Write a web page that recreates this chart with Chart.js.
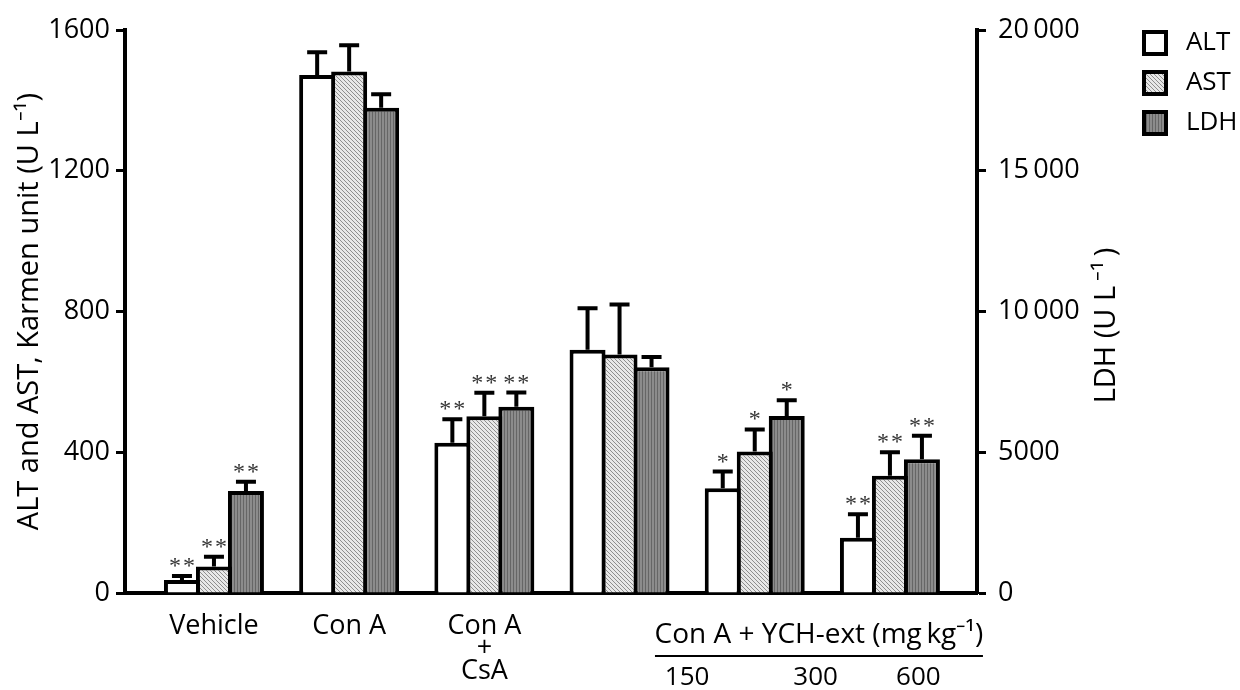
<!DOCTYPE html>
<html>
<head>
<meta charset="utf-8">
<script src="https://cdn.jsdelivr.net/npm/chart.js@4.4.1/dist/chart.umd.min.js"></script>
<style>
html,body{margin:0;padding:0;background:#fff;}
#wrap{width:1240px;height:690px;position:relative;}
</style>
</head>
<body>
<div id="wrap"><canvas id="c" width="1240" height="690"></canvas></div>
<script>
// ---------- data ----------
const groups = ['Vehicle', 'Con A', 'Con A + CsA', 'Con A + YCH-ext 150', 'Con A + YCH-ext 300', 'Con A + YCH-ext 600'];
const groupTickLabels = ['Vehicle', 'Con A', ['Con A', '+', 'CsA']];
const bracketLabel = 'Con A + YCH-ext (mg\u2009kg\u207B\u00B9)';
const doseLabels = ['150', '300', '600'];
const seriesNames = ['ALT', 'AST', 'LDH'];
const altValues = [37, 1472, 427, 691, 298, 157];
const altErrors = [11, 65, 67, 118, 47, 67];
const astValues = [75, 1482, 502, 678, 402, 333];
const astErrors = [28, 75, 67, 142, 63, 67];
const ldhValues = [3625, 17240, 6620, 8020, 6290, 4750];
const ldhErrors = [330, 480, 500, 360, 560, 840];
const altSig = ['**', '', '**', '', '*', '**'];
const astSig = ['**', '', '**', '', '*', '**'];
const ldhSig = ['**', '', '**', '', '*', '**'];
const leftTicks = [0, 400, 800, 1200, 1600];
const rightTicks = [0, 5000, 10000, 15000, 20000];
const leftTitle = 'ALT and AST, Karmen unit (U L\u207B\u00B9)';
const rightTitle = 'LDH (U L\u2009\u207B\u00B9\u2009)';

// ---------- layout / style constants ----------
const FONT = 'Open Sans';
const X_MIN = -0.658, X_MAX = 5.644;
const bracketPos = { textX: 4.475, lineFrom: 3.262, lineTo: 5.688, doseX: [3.50, 4.45, 5.21] };

function makePattern(w, h, draw) {
  const c = document.createElement('canvas');
  c.width = w; c.height = h;
  const g = c.getContext('2d');
  draw(g, w, h);
  return g.createPattern(c, 'repeat');
}
const astPattern = makePattern(4, 4, (g, w, h) => {
  g.fillStyle = '#e8e8e8'; g.fillRect(0, 0, w, h);
  g.fillStyle = '#8e8e8e';
  for (let i = 0; i < 4; i++) g.fillRect(i, i, 1, 1);
});
const ldhPattern = makePattern(3, 3, (g, w, h) => {
  g.fillStyle = '#8c8c8c'; g.fillRect(0, 0, w, h);
  g.fillStyle = '#666666'; g.fillRect(0, 0, 1, h);
});

const toPts = arr => arr.map((v, i) => ({ x: i, y: v }));
const barCommon = { borderColor: '#000', borderWidth: 4, borderSkipped: 'bottom', categoryPercentage: 0.71, barPercentage: 1.125 };

const errorBarPlugin = {
  id: 'errorBars',
  afterDatasetsDraw(chart) {
    const ctx = chart.ctx;
    chart.data.datasets.forEach((ds, di) => {
      const meta = chart.getDatasetMeta(di);
      const ys = chart.scales[meta.yAxisID];
      meta.data.forEach((el, i) => {
        const v = ds.data[i].y, e = ds.errors[i];
        const yTop = ys.getPixelForValue(v + e);
        const yBar = ys.getPixelForValue(v);
        ctx.save();
        ctx.strokeStyle = '#000';
        ctx.lineWidth = 4;
        ctx.lineCap = 'butt';
        ctx.beginPath();
        ctx.moveTo(el.x, yBar);
        ctx.lineTo(el.x, yTop);
        ctx.moveTo(el.x - 10, yTop);
        ctx.lineTo(el.x + 10, yTop);
        ctx.stroke();
        const s = ds.sig[i];
        if (s) {
          ctx.fillStyle = '#333';
          ctx.font = '24px "Liberation Serif"';
          ctx.textAlign = 'center';
          ctx.textBaseline = 'alphabetic';
          ctx.fillText(s.split('').join('\u200A'), el.x, yTop - 3);
        }
        ctx.restore();
      });
    });
  }
};

const annotPlugin = {
  id: 'annot',
  afterDraw(chart) {
    const ctx = chart.ctx;
    const xs = chart.scales.x;
    const ca = chart.chartArea;
    ctx.save();
    ctx.fillStyle = '#000';
    ctx.textAlign = 'center';
    ctx.textBaseline = 'middle';
    ctx.font = '28px "' + FONT + '"';
    ctx.fillText(bracketLabel, xs.getPixelForValue(bracketPos.textX), ca.bottom + 42);
    ctx.strokeStyle = '#000';
    ctx.lineWidth = 2;
    ctx.beginPath();
    ctx.moveTo(xs.getPixelForValue(bracketPos.lineFrom), ca.bottom + 63);
    ctx.lineTo(xs.getPixelForValue(bracketPos.lineTo), ca.bottom + 63);
    ctx.stroke();
    ctx.font = '26px "' + FONT + '"';
    doseLabels.forEach((d, i) => {
      ctx.fillText(d, xs.getPixelForValue(bracketPos.doseX[i]), ca.bottom + 85);
    });
    // right axis title (reads bottom-to-top)
    ctx.font = '29px "' + FONT + '"';
    ctx.translate(ca.right + 130, (ca.top + ca.bottom) / 2 + 14);
    ctx.rotate(-Math.PI / 2);
    ctx.fillText(rightTitle, 0, 0);
    ctx.restore();
  }
};

const tickFont = { family: FONT, size: 27 };

new Chart(document.getElementById('c'), {
  type: 'bar',
  data: {
    datasets: [
      Object.assign({ label: seriesNames[0], data: toPts(altValues), yAxisID: 'y', backgroundColor: '#ffffff', errors: altErrors, sig: altSig }, barCommon),
      Object.assign({ label: seriesNames[1], data: toPts(astValues), yAxisID: 'y', backgroundColor: astPattern, errors: astErrors, sig: astSig }, barCommon),
      Object.assign({ label: seriesNames[2], data: toPts(ldhValues), yAxisID: 'y1', backgroundColor: ldhPattern, errors: ldhErrors, sig: ldhSig }, barCommon)
    ]
  },
  options: {
    responsive: false,
    animation: false,
    devicePixelRatio: 1,
    layout: { padding: { top: 16, right: 0, bottom: 0, left: 0 } },
    plugins: {
      tooltip: { enabled: false },
      title: { display: true, text: '', fullSize: false, padding: { top: 0, bottom: 0 }, font: { size: 14, lineHeight: 1 } },
      legend: {
        position: 'right',
        align: 'start',
        maxWidth: 110,
        labels: {
          boxWidth: 22, boxHeight: 22, padding: 14, color: '#000',
          font: { family: FONT, size: 26 },
          generateLabels: chart => Chart.defaults.plugins.legend.labels.generateLabels(chart).map(l => Object.assign(l, { text: '\u2009\u200A' + l.text }))
        }
      }
    },
    scales: {
      x: {
        type: 'linear',
        min: X_MIN,
        max: X_MAX,
        offset: false,
        grid: { display: false, drawTicks: false },
        border: { display: true, width: 4, color: '#000' },
        afterBuildTicks: s => { s.ticks = groupTickLabels.map((_, i) => ({ value: i })); },
        ticks: {
          callback: (v, i) => groupTickLabels[i],
          color: '#000',
          font: { family: FONT, size: 27, lineHeight: 0.83 },
          padding: 22,
          maxRotation: 0,
          autoSkip: false
        },
        afterFit: s => { s.height = 97; }
      },
      y: {
        position: 'left',
        min: 0,
        max: 1600,
        afterBuildTicks: s => { s.ticks = leftTicks.map(v => ({ value: v })); },
        grid: { display: true, drawOnChartArea: false, drawTicks: true, tickLength: 9, tickWidth: 3, tickColor: '#000' },
        border: { display: true, width: 4, color: '#000' },
        ticks: { color: '#000', font: tickFont, padding: 6, callback: v => String(v) },
        title: { display: true, text: leftTitle, color: '#000', font: { family: FONT, size: 29 }, padding: { top: 12, bottom: 0 } },
        afterFit: s => { s.width = 125; }
      },
      y1: {
        position: 'right',
        min: 0,
        max: 20000,
        afterBuildTicks: s => { s.ticks = rightTicks.map(v => ({ value: v })); },
        grid: { display: true, drawOnChartArea: false, drawTicks: true, tickLength: 9, tickWidth: 3, tickColor: '#000' },
        border: { display: true, width: 4, color: '#000' },
        ticks: {
          color: '#000', font: tickFont, padding: 12,
          callback: v => v >= 10000 ? String(Math.floor(v / 1000)) + '\u2009' + String(v % 1000).padStart(3, '0') : String(v)
        },
        afterFit: s => {
          const lg = s.chart.legend;
          const lw = lg ? lg.width : 0;
          s.width = s.chart.width - 977 - lw;
        }
      }
    }
  },
  plugins: [errorBarPlugin, annotPlugin]
});
</script>
</body>
</html>
